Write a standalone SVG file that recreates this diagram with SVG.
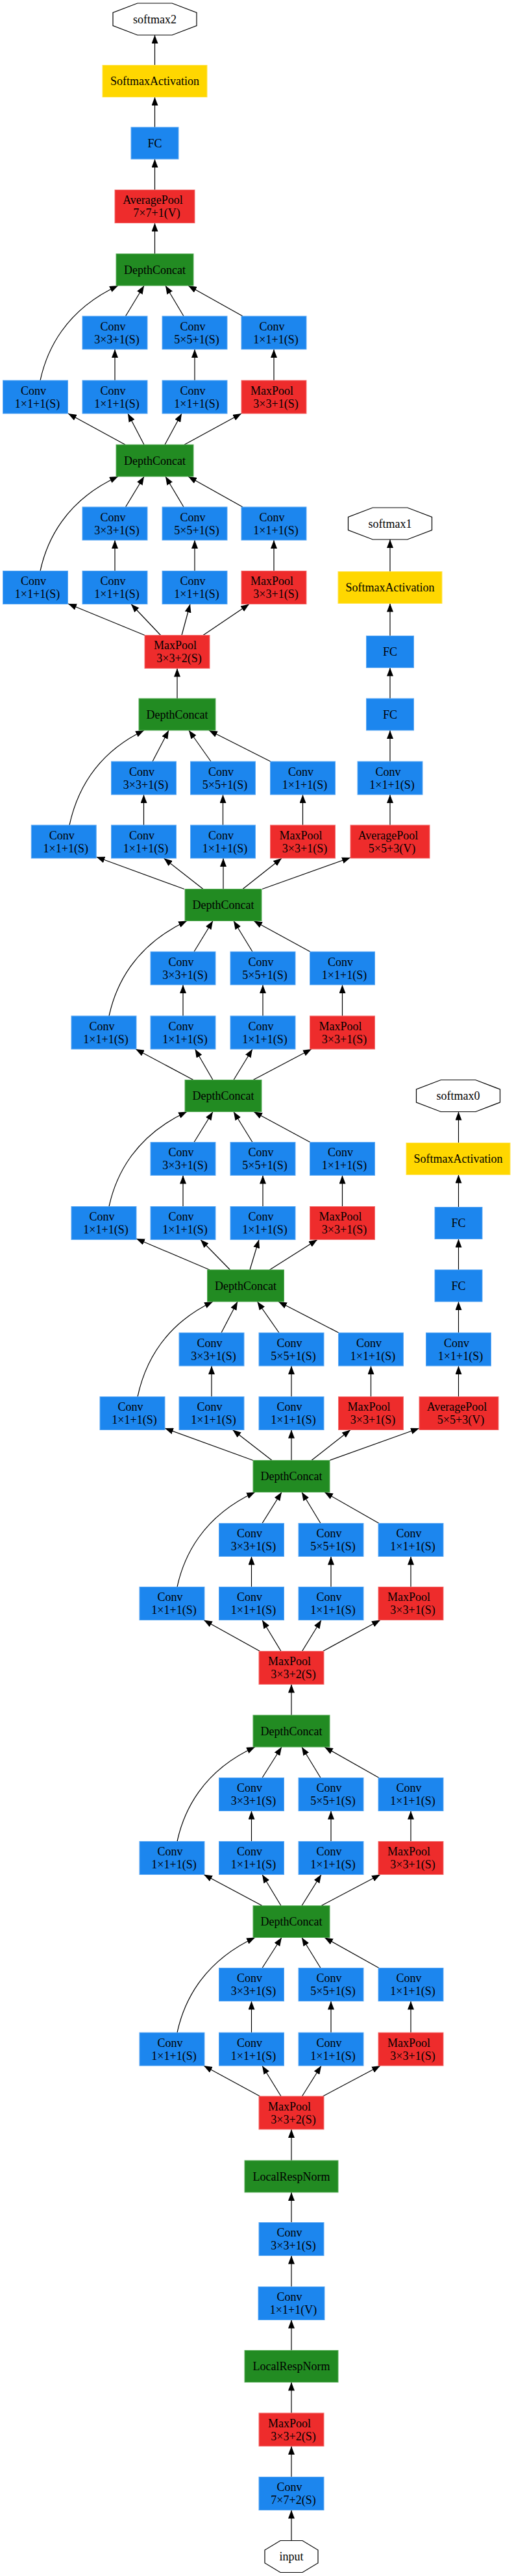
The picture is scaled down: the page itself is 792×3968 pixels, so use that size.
<svg xmlns="http://www.w3.org/2000/svg" width="792" height="3968" viewBox="0 0 792 3968">
<defs>
<style>
.conv{fill:#1C86EE;stroke:#5EA9F3;stroke-width:1}
.pool{fill:#EE2C2C;stroke:#F37070;stroke-width:1}
.dc{fill:#228B22;stroke:#5BAE5B;stroke-width:1}
.act{fill:#FFD700;stroke:#FFE34D;stroke-width:1}
.oct{fill:#FFFFFF;stroke:#000000;stroke-width:1.2}
.t{font-family:"Liberation Serif","Times New Roman",serif;font-size:18px;fill:#000000;text-anchor:middle}
.e{fill:none;stroke:#000000;stroke-width:1.2;marker-end:url(#arr)}
</style>
<marker id="arr" markerUnits="userSpaceOnUse" markerWidth="13" markerHeight="10" refX="13" refY="5" orient="auto" viewBox="0 0 13 10">
<path d="M0,0 L13,5 L0,10 z" fill="#000000"/>
</marker>
</defs>
<rect x="0" y="0" width="792" height="3968" fill="#FFFFFF"/>

<g id="connectors">
<!-- top chain -->
<path class="e" d="M238.5,391 L238.5,343.5"/>
<path class="e" d="M238.5,292.5 L238.5,245"/>
<path class="e" d="M238.5,196 L238.5,149.5"/>
<path class="e" d="M238.5,100.5 L238.5,54"/>
<!-- 5b to dc9 -->
<path class="e" d="M62,586 C72,540 100,478 182,440"/>
<path class="e" d="M193.5,487 L222,440"/>
<path class="e" d="M283,487 L255,440"/>
<path class="e" d="M374,487 L290,440"/>
<path class="e" d="M177,586 L177,538"/>
<path class="e" d="M300,586 L300,538"/>
<path class="e" d="M422,586 L422,538"/>
<path class="e" d="M193,685 L105,637"/>
<path class="e" d="M222,685 L197,637"/>
<path class="e" d="M254,685 L280,637"/>
<path class="e" d="M284,685 L372,637"/>
<!-- 5a to dc8 -->
<path class="e" d="M62,879.5 C72,833.5 100,771.5 182,734"/>
<path class="e" d="M193.5,781 L222,734"/>
<path class="e" d="M283,781 L255,734"/>
<path class="e" d="M374,781 L290,734"/>
<path class="e" d="M177,879.5 L177,832"/>
<path class="e" d="M300,879.5 L300,832"/>
<path class="e" d="M422,879.5 L422,832"/>
<path class="e" d="M223,978.5 L105,930"/>
<path class="e" d="M247.5,978.5 L202,930.5"/>
<path class="e" d="M280,978.5 L293,930.5"/>
<path class="e" d="M313,978.5 L384,930.5"/>
<path class="e" d="M273,1076 L273,1029.5"/>
<!-- 4e to dc7 -->
<path class="e" d="M107,1271 C117,1225 143.5,1163 222,1125"/>
<path class="e" d="M235,1173 L260,1125"/>
<path class="e" d="M325,1173 L291,1125"/>
<path class="e" d="M417,1173 L322,1125"/>
<path class="e" d="M221.5,1271 L221.5,1224"/>
<path class="e" d="M343.5,1271 L343.5,1224"/>
<path class="e" d="M466.5,1271 L466.5,1224"/>
<path class="e" d="M601,1271 L601,1224"/>
<path class="e" d="M284,1369.5 L148.5,1320"/>
<path class="e" d="M313,1369.5 L252.5,1322"/>
<path class="e" d="M344,1369.5 L344,1322"/>
<path class="e" d="M374,1369.5 L434,1322"/>
<path class="e" d="M404,1369.5 L540,1321"/>
<!-- aux 1 chain -->
<path class="e" d="M601,1173 L601,1125"/>
<path class="e" d="M601,1076 L601,1028.5"/>
<path class="e" d="M601,979.5 L601,929.5"/>
<path class="e" d="M601,880.5 L601,831"/>
<!-- 4d to dc6 -->
<path class="e" d="M168,1565 C178,1519 206,1457 288,1418.5"/>
<path class="e" d="M299,1466 L328,1418.5"/>
<path class="e" d="M389,1466 L360,1418.5"/>
<path class="e" d="M478,1466 L391,1418.5"/>
<path class="e" d="M282,1565 L282,1517"/>
<path class="e" d="M405,1565 L405,1517"/>
<path class="e" d="M527.5,1565 L527.5,1517"/>
<path class="e" d="M298,1663.5 L209,1616"/>
<path class="e" d="M328,1663.5 L300.5,1616"/>
<path class="e" d="M360,1663.5 L389,1616"/>
<path class="e" d="M390,1663.5 L480,1616"/>
<!-- 4c to dc5 -->
<path class="e" d="M168,1858.5 C178,1812.5 206,1750.5 288,1712.5"/>
<path class="e" d="M299,1759.5 L328,1712.5"/>
<path class="e" d="M389,1759.5 L360,1712.5"/>
<path class="e" d="M478,1759.5 L391,1712.5"/>
<path class="e" d="M282,1858.5 L282,1810.5"/>
<path class="e" d="M405,1858.5 L405,1810.5"/>
<path class="e" d="M527.5,1858.5 L527.5,1810.5"/>
<path class="e" d="M323,1956 L210,1908"/>
<path class="e" d="M354.5,1956 L309,1909.5"/>
<path class="e" d="M385,1956 L399,1909.5"/>
<path class="e" d="M415.5,1956 L489,1909.5"/>
<!-- aux 0 chain -->
<path class="e" d="M706.5,2151.5 L706.5,2104"/>
<path class="e" d="M706.5,2053 L706.5,2005"/>
<path class="e" d="M706.5,1956 L706.5,1908.5"/>
<path class="e" d="M706.5,1859.5 L706.5,1809.5"/>
<path class="e" d="M706.5,1760.5 L706.5,1712.5"/>
<!-- 4b to dc4 -->
<path class="e" d="M212,2151.5 C222,2105.5 249,2043 328,2005"/>
<path class="e" d="M341,2053 L366,2005"/>
<path class="e" d="M430,2053 L396.5,2005"/>
<path class="e" d="M522,2053 L429,2005"/>
<path class="e" d="M326,2151.5 L326,2104"/>
<path class="e" d="M449,2151.5 L449,2104"/>
<path class="e" d="M571.5,2151.5 L571.5,2104"/>
<path class="e" d="M390,2249.5 L254,2200"/>
<path class="e" d="M419,2249.5 L358.5,2202.5"/>
<path class="e" d="M449,2249.5 L449,2202.5"/>
<path class="e" d="M480,2249.5 L540,2202.5"/>
<path class="e" d="M508,2249.5 L646,2200"/>
<!-- 4a to dc3 -->
<path class="e" d="M273,2444.5 C283,2398.5 311,2336.5 393,2298.5"/>
<path class="e" d="M404,2346.5 L434,2298.5"/>
<path class="e" d="M494,2346.5 L465,2298.5"/>
<path class="e" d="M584,2346.5 L500,2298.5"/>
<path class="e" d="M387.5,2444.5 L387.5,2397.5"/>
<path class="e" d="M510,2444.5 L510,2397.5"/>
<path class="e" d="M633,2444.5 L633,2397.5"/>
<path class="e" d="M400.5,2543.5 L314,2495.5"/>
<path class="e" d="M433,2543.5 L404,2495.5"/>
<path class="e" d="M465.5,2543.5 L495,2495.5"/>
<path class="e" d="M497.5,2543.5 L586,2495.5"/>
<path class="e" d="M449,2642 L449,2594.5"/>
<!-- 3b to dc2 -->
<path class="e" d="M273,2836.5 C283,2790.5 311,2728.5 393,2691"/>
<path class="e" d="M404,2738.5 L434,2691"/>
<path class="e" d="M494,2738.5 L465,2691"/>
<path class="e" d="M584,2738.5 L500,2691"/>
<path class="e" d="M387.5,2836.5 L387.5,2789.5"/>
<path class="e" d="M510,2836.5 L510,2789.5"/>
<path class="e" d="M633,2836.5 L633,2789.5"/>
<path class="e" d="M404,2935.5 L314,2887.5"/>
<path class="e" d="M433,2935.5 L404,2887.5"/>
<path class="e" d="M465,2935.5 L495,2887.5"/>
<path class="e" d="M495,2935.5 L586,2887.5"/>
<!-- 3a to dc1 -->
<path class="e" d="M273,3131 C283,3085 311,3023 393,2984.5"/>
<path class="e" d="M404,3031.5 L434,2984.5"/>
<path class="e" d="M494,3031.5 L465,2984.5"/>
<path class="e" d="M584,3031.5 L500,2984.5"/>
<path class="e" d="M387.5,3131 L387.5,3082.5"/>
<path class="e" d="M510,3131 L510,3082.5"/>
<path class="e" d="M633,3131 L633,3082.5"/>
<path class="e" d="M400.5,3229 L314,3182"/>
<path class="e" d="M433,3229 L404,3182"/>
<path class="e" d="M465.5,3229 L495,3182"/>
<path class="e" d="M497.5,3229 L586,3182"/>
<!-- stem -->
<path class="e" d="M449,3328 L449,3280"/>
<path class="e" d="M449,3423.5 L449,3377"/>
<path class="e" d="M449,3522.5 L449,3474.5"/>
<path class="e" d="M449,3620.5 L449,3573.5"/>
<path class="e" d="M449,3717 L449,3669.5"/>
<path class="e" d="M449,3815.5 L449,3768"/>
<path class="e" d="M449,3913.5 L449,3866.5"/>
</g>

<!-- top -->
<g id="softmax2"><polygon class="oct" points="211.8,5 265.2,5 303,19.5 303,39.5 265.2,54 211.8,54 174,39.5 174,19.5"/><text class="t" x="238.5" y="35.5">softmax2</text></g>
<g id="softmaxact2"><rect class="act" x="158" y="100.5" width="161" height="49"/><text class="t" x="238.5" y="131">SoftmaxActivation</text></g>
<g id="fc2"><rect class="conv" x="202" y="196" width="73" height="49"/><text class="t" x="238.5" y="226.5">FC</text></g>
<g id="avgpool2"><rect class="pool" x="177" y="292.5" width="123" height="51"/><text class="t"><tspan x="235.5" y="314">AveragePool</tspan><tspan x="241.5" y="334">7×7+1(V)</tspan></text></g>
<g id="dc9"><rect class="dc" x="179" y="391" width="119" height="49"/><text class="t" x="238.5" y="421.5">DepthConcat</text></g>

<!-- inception 5b -->
<g id="i5b_3x3"><rect class="conv" x="127" y="487" width="100" height="51"/><text class="t"><tspan x="174" y="508.5">Conv</tspan><tspan x="180" y="528.5">3×3+1(S)</tspan></text></g>
<g id="i5b_5x5"><rect class="conv" x="250" y="487" width="100" height="51"/><text class="t"><tspan x="297" y="508.5">Conv</tspan><tspan x="303" y="528.5">5×5+1(S)</tspan></text></g>
<g id="i5b_pp"><rect class="conv" x="372" y="487" width="100" height="51"/><text class="t"><tspan x="419" y="508.5">Conv</tspan><tspan x="425" y="528.5">1×1+1(S)</tspan></text></g>
<g id="i5b_1x1"><rect class="conv" x="4.5" y="586" width="100" height="51"/><text class="t"><tspan x="51.5" y="607.5">Conv</tspan><tspan x="57.5" y="627.5">1×1+1(S)</tspan></text></g>
<g id="i5b_3r"><rect class="conv" x="127" y="586" width="100" height="51"/><text class="t"><tspan x="174" y="607.5">Conv</tspan><tspan x="180" y="627.5">1×1+1(S)</tspan></text></g>
<g id="i5b_5r"><rect class="conv" x="250" y="586" width="100" height="51"/><text class="t"><tspan x="297" y="607.5">Conv</tspan><tspan x="303" y="627.5">1×1+1(S)</tspan></text></g>
<g id="i5b_pool"><rect class="pool" x="372" y="586" width="100" height="51"/><text class="t"><tspan x="419" y="607.5">MaxPool</tspan><tspan x="425" y="627.5">3×3+1(S)</tspan></text></g>
<g id="dc8"><rect class="dc" x="179" y="685" width="119" height="49"/><text class="t" x="238.5" y="715.5">DepthConcat</text></g>

<!-- inception 5a -->
<g id="i5a_3x3"><rect class="conv" x="127" y="781" width="100" height="51"/><text class="t"><tspan x="174" y="802.5">Conv</tspan><tspan x="180" y="822.5">3×3+1(S)</tspan></text></g>
<g id="i5a_5x5"><rect class="conv" x="250" y="781" width="100" height="51"/><text class="t"><tspan x="297" y="802.5">Conv</tspan><tspan x="303" y="822.5">5×5+1(S)</tspan></text></g>
<g id="i5a_pp"><rect class="conv" x="372" y="781" width="100" height="51"/><text class="t"><tspan x="419" y="802.5">Conv</tspan><tspan x="425" y="822.5">1×1+1(S)</tspan></text></g>
<g id="i5a_1x1"><rect class="conv" x="4.5" y="879.5" width="100" height="51"/><text class="t"><tspan x="51.5" y="901">Conv</tspan><tspan x="57.5" y="921">1×1+1(S)</tspan></text></g>
<g id="i5a_3r"><rect class="conv" x="127" y="879.5" width="100" height="51"/><text class="t"><tspan x="174" y="901">Conv</tspan><tspan x="180" y="921">1×1+1(S)</tspan></text></g>
<g id="i5a_5r"><rect class="conv" x="250" y="879.5" width="100" height="51"/><text class="t"><tspan x="297" y="901">Conv</tspan><tspan x="303" y="921">1×1+1(S)</tspan></text></g>
<g id="i5a_pool"><rect class="pool" x="372" y="879.5" width="100" height="51"/><text class="t"><tspan x="419" y="901">MaxPool</tspan><tspan x="425" y="921">3×3+1(S)</tspan></text></g>
<g id="maxpool4"><rect class="pool" x="223" y="978.5" width="100" height="51"/><text class="t"><tspan x="270" y="1000">MaxPool</tspan><tspan x="276" y="1020">3×3+2(S)</tspan></text></g>
<g id="dc7"><rect class="dc" x="214" y="1076" width="118" height="49"/><text class="t" x="273" y="1106.5">DepthConcat</text></g>

<!-- aux 1 -->
<g id="softmax1"><polygon class="oct" points="574.3,782 627.7,782 665.5,796.5 665.5,816.5 627.7,831 574.3,831 536.5,816.5 536.5,796.5"/><text class="t" x="601" y="812.5">softmax1</text></g>
<g id="softmaxact1"><rect class="act" x="521" y="880.5" width="160" height="49"/><text class="t" x="601" y="911">SoftmaxActivation</text></g>
<g id="fc1a"><rect class="conv" x="564.5" y="979.5" width="73" height="49"/><text class="t" x="601" y="1010">FC</text></g>
<g id="fc1b"><rect class="conv" x="564.5" y="1076" width="73" height="49"/><text class="t" x="601" y="1106.5">FC</text></g>
<g id="aux1_conv"><rect class="conv" x="551" y="1173" width="100" height="51"/><text class="t"><tspan x="598" y="1194.5">Conv</tspan><tspan x="604" y="1214.5">1×1+1(S)</tspan></text></g>
<g id="aux1_pool"><rect class="pool" x="540" y="1271" width="122" height="51"/><text class="t"><tspan x="598" y="1292.5">AveragePool</tspan><tspan x="604" y="1312.5">5×5+3(V)</tspan></text></g>

<!-- inception 4e -->
<g id="i4e_3x3"><rect class="conv" x="171.5" y="1173" width="100" height="51"/><text class="t"><tspan x="218.5" y="1194.5">Conv</tspan><tspan x="224.5" y="1214.5">3×3+1(S)</tspan></text></g>
<g id="i4e_5x5"><rect class="conv" x="293.5" y="1173" width="100" height="51"/><text class="t"><tspan x="340.5" y="1194.5">Conv</tspan><tspan x="346.5" y="1214.5">5×5+1(S)</tspan></text></g>
<g id="i4e_pp"><rect class="conv" x="416.5" y="1173" width="100" height="51"/><text class="t"><tspan x="463.5" y="1194.5">Conv</tspan><tspan x="469.5" y="1214.5">1×1+1(S)</tspan></text></g>
<g id="i4e_1x1"><rect class="conv" x="48.25" y="1271" width="100" height="51"/><text class="t"><tspan x="95.25" y="1292.5">Conv</tspan><tspan x="101.25" y="1312.5">1×1+1(S)</tspan></text></g>
<g id="i4e_3r"><rect class="conv" x="171.5" y="1271" width="100" height="51"/><text class="t"><tspan x="218.5" y="1292.5">Conv</tspan><tspan x="224.5" y="1312.5">1×1+1(S)</tspan></text></g>
<g id="i4e_5r"><rect class="conv" x="293.5" y="1271" width="100" height="51"/><text class="t"><tspan x="340.5" y="1292.5">Conv</tspan><tspan x="346.5" y="1312.5">1×1+1(S)</tspan></text></g>
<g id="i4e_pool"><rect class="pool" x="416.5" y="1271" width="100" height="51"/><text class="t"><tspan x="463.5" y="1292.5">MaxPool</tspan><tspan x="469.5" y="1312.5">3×3+1(S)</tspan></text></g>
<g id="dc6"><rect class="dc" x="285" y="1369.5" width="118" height="49"/><text class="t" x="344" y="1400">DepthConcat</text></g>

<!-- inception 4d -->
<g id="i4d_3x3"><rect class="conv" x="232" y="1466" width="100" height="51"/><text class="t"><tspan x="279" y="1487.5">Conv</tspan><tspan x="285" y="1507.5">3×3+1(S)</tspan></text></g>
<g id="i4d_5x5"><rect class="conv" x="355" y="1466" width="100" height="51"/><text class="t"><tspan x="402" y="1487.5">Conv</tspan><tspan x="408" y="1507.5">5×5+1(S)</tspan></text></g>
<g id="i4d_pp"><rect class="conv" x="477.5" y="1466" width="100" height="51"/><text class="t"><tspan x="524.5" y="1487.5">Conv</tspan><tspan x="530.5" y="1507.5">1×1+1(S)</tspan></text></g>
<g id="i4d_1x1"><rect class="conv" x="110" y="1565" width="100" height="51"/><text class="t"><tspan x="157" y="1586.5">Conv</tspan><tspan x="163" y="1606.5">1×1+1(S)</tspan></text></g>
<g id="i4d_3r"><rect class="conv" x="232" y="1565" width="100" height="51"/><text class="t"><tspan x="279" y="1586.5">Conv</tspan><tspan x="285" y="1606.5">1×1+1(S)</tspan></text></g>
<g id="i4d_5r"><rect class="conv" x="355" y="1565" width="100" height="51"/><text class="t"><tspan x="402" y="1586.5">Conv</tspan><tspan x="408" y="1606.5">1×1+1(S)</tspan></text></g>
<g id="i4d_pool"><rect class="pool" x="477.5" y="1565" width="100" height="51"/><text class="t"><tspan x="524.5" y="1586.5">MaxPool</tspan><tspan x="530.5" y="1606.5">3×3+1(S)</tspan></text></g>
<g id="dc5"><rect class="dc" x="285" y="1663.5" width="118" height="49"/><text class="t" x="344" y="1694">DepthConcat</text></g>

<!-- inception 4c -->
<g id="i4c_3x3"><rect class="conv" x="232" y="1759.5" width="100" height="51"/><text class="t"><tspan x="279" y="1781">Conv</tspan><tspan x="285" y="1801">3×3+1(S)</tspan></text></g>
<g id="i4c_5x5"><rect class="conv" x="355" y="1759.5" width="100" height="51"/><text class="t"><tspan x="402" y="1781">Conv</tspan><tspan x="408" y="1801">5×5+1(S)</tspan></text></g>
<g id="i4c_pp"><rect class="conv" x="477.5" y="1759.5" width="100" height="51"/><text class="t"><tspan x="524.5" y="1781">Conv</tspan><tspan x="530.5" y="1801">1×1+1(S)</tspan></text></g>
<g id="i4c_1x1"><rect class="conv" x="110" y="1858.5" width="100" height="51"/><text class="t"><tspan x="157" y="1880">Conv</tspan><tspan x="163" y="1900">1×1+1(S)</tspan></text></g>
<g id="i4c_3r"><rect class="conv" x="232" y="1858.5" width="100" height="51"/><text class="t"><tspan x="279" y="1880">Conv</tspan><tspan x="285" y="1900">1×1+1(S)</tspan></text></g>
<g id="i4c_5r"><rect class="conv" x="355" y="1858.5" width="100" height="51"/><text class="t"><tspan x="402" y="1880">Conv</tspan><tspan x="408" y="1900">1×1+1(S)</tspan></text></g>
<g id="i4c_pool"><rect class="pool" x="477.5" y="1858.5" width="100" height="51"/><text class="t"><tspan x="524.5" y="1880">MaxPool</tspan><tspan x="530.5" y="1900">3×3+1(S)</tspan></text></g>
<g id="dc4"><rect class="dc" x="319.5" y="1956" width="118" height="49"/><text class="t" x="378.5" y="1986.5">DepthConcat</text></g>

<!-- aux 0 -->
<g id="softmax0"><polygon class="oct" points="679.3,1663.5 732.7,1663.5 770.5,1678 770.5,1698 732.7,1712.5 679.3,1712.5 641.5,1698 641.5,1678"/><text class="t" x="706" y="1694">softmax0</text></g>
<g id="softmaxact0"><rect class="act" x="626" y="1760.5" width="160" height="49"/><text class="t" x="706" y="1791">SoftmaxActivation</text></g>
<g id="fc0a"><rect class="conv" x="670" y="1859.5" width="73" height="49"/><text class="t" x="706.5" y="1890">FC</text></g>
<g id="fc0b"><rect class="conv" x="670" y="1956" width="73" height="49"/><text class="t" x="706.5" y="1986.5">FC</text></g>
<g id="aux0_conv"><rect class="conv" x="656.5" y="2053" width="100" height="51"/><text class="t"><tspan x="703.5" y="2074.5">Conv</tspan><tspan x="709.5" y="2094.5">1×1+1(S)</tspan></text></g>
<g id="aux0_pool"><rect class="pool" x="646" y="2151.5" width="122" height="51"/><text class="t"><tspan x="704" y="2173">AveragePool</tspan><tspan x="710" y="2193">5×5+3(V)</tspan></text></g>

<!-- inception 4b -->
<g id="i4b_3x3"><rect class="conv" x="276" y="2053" width="100" height="51"/><text class="t"><tspan x="323" y="2074.5">Conv</tspan><tspan x="329" y="2094.5">3×3+1(S)</tspan></text></g>
<g id="i4b_5x5"><rect class="conv" x="399" y="2053" width="100" height="51"/><text class="t"><tspan x="446" y="2074.5">Conv</tspan><tspan x="452" y="2094.5">5×5+1(S)</tspan></text></g>
<g id="i4b_pp"><rect class="conv" x="521.5" y="2053" width="100" height="51"/><text class="t"><tspan x="568.5" y="2074.5">Conv</tspan><tspan x="574.5" y="2094.5">1×1+1(S)</tspan></text></g>
<g id="i4b_1x1"><rect class="conv" x="154" y="2151.5" width="100" height="51"/><text class="t"><tspan x="201" y="2173">Conv</tspan><tspan x="207" y="2193">1×1+1(S)</tspan></text></g>
<g id="i4b_3r"><rect class="conv" x="276" y="2151.5" width="100" height="51"/><text class="t"><tspan x="323" y="2173">Conv</tspan><tspan x="329" y="2193">1×1+1(S)</tspan></text></g>
<g id="i4b_5r"><rect class="conv" x="399" y="2151.5" width="100" height="51"/><text class="t"><tspan x="446" y="2173">Conv</tspan><tspan x="452" y="2193">1×1+1(S)</tspan></text></g>
<g id="i4b_pool"><rect class="pool" x="521.5" y="2151.5" width="100" height="51"/><text class="t"><tspan x="568.5" y="2173">MaxPool</tspan><tspan x="574.5" y="2193">3×3+1(S)</tspan></text></g>
<g id="dc3"><rect class="dc" x="390" y="2249.5" width="118" height="49"/><text class="t" x="449" y="2280">DepthConcat</text></g>

<!-- inception 4a -->
<g id="i4a_3x3"><rect class="conv" x="337.5" y="2346.5" width="100" height="51"/><text class="t"><tspan x="384.5" y="2368">Conv</tspan><tspan x="390.5" y="2388">3×3+1(S)</tspan></text></g>
<g id="i4a_5x5"><rect class="conv" x="460" y="2346.5" width="100" height="51"/><text class="t"><tspan x="507" y="2368">Conv</tspan><tspan x="513" y="2388">5×5+1(S)</tspan></text></g>
<g id="i4a_pp"><rect class="conv" x="583" y="2346.5" width="100" height="51"/><text class="t"><tspan x="630" y="2368">Conv</tspan><tspan x="636" y="2388">1×1+1(S)</tspan></text></g>
<g id="i4a_1x1"><rect class="conv" x="215" y="2444.5" width="100" height="51"/><text class="t"><tspan x="262" y="2466">Conv</tspan><tspan x="268" y="2486">1×1+1(S)</tspan></text></g>
<g id="i4a_3r"><rect class="conv" x="337.5" y="2444.5" width="100" height="51"/><text class="t"><tspan x="384.5" y="2466">Conv</tspan><tspan x="390.5" y="2486">1×1+1(S)</tspan></text></g>
<g id="i4a_5r"><rect class="conv" x="460" y="2444.5" width="100" height="51"/><text class="t"><tspan x="507" y="2466">Conv</tspan><tspan x="513" y="2486">1×1+1(S)</tspan></text></g>
<g id="i4a_pool"><rect class="pool" x="583" y="2444.5" width="100" height="51"/><text class="t"><tspan x="630" y="2466">MaxPool</tspan><tspan x="636" y="2486">3×3+1(S)</tspan></text></g>
<g id="maxpool3"><rect class="pool" x="399" y="2543.5" width="100" height="51"/><text class="t"><tspan x="446" y="2565">MaxPool</tspan><tspan x="452" y="2585">3×3+2(S)</tspan></text></g>
<g id="dc2"><rect class="dc" x="390" y="2642" width="118" height="49"/><text class="t" x="449" y="2672.5">DepthConcat</text></g>

<!-- inception 3b -->
<g id="i3b_3x3"><rect class="conv" x="337.5" y="2738.5" width="100" height="51"/><text class="t"><tspan x="384.5" y="2760">Conv</tspan><tspan x="390.5" y="2780">3×3+1(S)</tspan></text></g>
<g id="i3b_5x5"><rect class="conv" x="460" y="2738.5" width="100" height="51"/><text class="t"><tspan x="507" y="2760">Conv</tspan><tspan x="513" y="2780">5×5+1(S)</tspan></text></g>
<g id="i3b_pp"><rect class="conv" x="583" y="2738.5" width="100" height="51"/><text class="t"><tspan x="630" y="2760">Conv</tspan><tspan x="636" y="2780">1×1+1(S)</tspan></text></g>
<g id="i3b_1x1"><rect class="conv" x="215" y="2836.5" width="100" height="51"/><text class="t"><tspan x="262" y="2858">Conv</tspan><tspan x="268" y="2878">1×1+1(S)</tspan></text></g>
<g id="i3b_3r"><rect class="conv" x="337.5" y="2836.5" width="100" height="51"/><text class="t"><tspan x="384.5" y="2858">Conv</tspan><tspan x="390.5" y="2878">1×1+1(S)</tspan></text></g>
<g id="i3b_5r"><rect class="conv" x="460" y="2836.5" width="100" height="51"/><text class="t"><tspan x="507" y="2858">Conv</tspan><tspan x="513" y="2878">1×1+1(S)</tspan></text></g>
<g id="i3b_pool"><rect class="pool" x="583" y="2836.5" width="100" height="51"/><text class="t"><tspan x="630" y="2858">MaxPool</tspan><tspan x="636" y="2878">3×3+1(S)</tspan></text></g>
<g id="dc1"><rect class="dc" x="390" y="2935.5" width="118" height="49"/><text class="t" x="449" y="2966">DepthConcat</text></g>

<!-- inception 3a -->
<g id="i3a_3x3"><rect class="conv" x="337.5" y="3031.5" width="100" height="51"/><text class="t"><tspan x="384.5" y="3053">Conv</tspan><tspan x="390.5" y="3073">3×3+1(S)</tspan></text></g>
<g id="i3a_5x5"><rect class="conv" x="460" y="3031.5" width="100" height="51"/><text class="t"><tspan x="507" y="3053">Conv</tspan><tspan x="513" y="3073">5×5+1(S)</tspan></text></g>
<g id="i3a_pp"><rect class="conv" x="583" y="3031.5" width="100" height="51"/><text class="t"><tspan x="630" y="3053">Conv</tspan><tspan x="636" y="3073">1×1+1(S)</tspan></text></g>
<g id="i3a_1x1"><rect class="conv" x="215" y="3131" width="100" height="51"/><text class="t"><tspan x="262" y="3152.5">Conv</tspan><tspan x="268" y="3172.5">1×1+1(S)</tspan></text></g>
<g id="i3a_3r"><rect class="conv" x="337.5" y="3131" width="100" height="51"/><text class="t"><tspan x="384.5" y="3152.5">Conv</tspan><tspan x="390.5" y="3172.5">1×1+1(S)</tspan></text></g>
<g id="i3a_5r"><rect class="conv" x="460" y="3131" width="100" height="51"/><text class="t"><tspan x="507" y="3152.5">Conv</tspan><tspan x="513" y="3172.5">1×1+1(S)</tspan></text></g>
<g id="i3a_pool"><rect class="pool" x="583" y="3131" width="100" height="51"/><text class="t"><tspan x="630" y="3152.5">MaxPool</tspan><tspan x="636" y="3172.5">3×3+1(S)</tspan></text></g>

<!-- stem -->
<g id="maxpool2"><rect class="pool" x="399" y="3229" width="100" height="51"/><text class="t"><tspan x="446" y="3250.5">MaxPool</tspan><tspan x="452" y="3270.5">3×3+2(S)</tspan></text></g>
<g id="lrn2"><rect class="dc" x="377" y="3328" width="144" height="49"/><text class="t" x="449" y="3358.5">LocalRespNorm</text></g>
<g id="conv3"><rect class="conv" x="399" y="3423.5" width="100" height="51"/><text class="t"><tspan x="446" y="3445">Conv</tspan><tspan x="452" y="3465">3×3+1(S)</tspan></text></g>
<g id="conv2"><rect class="conv" x="398" y="3522.5" width="102" height="51"/><text class="t"><tspan x="446" y="3544">Conv</tspan><tspan x="452" y="3564">1×1+1(V)</tspan></text></g>
<g id="lrn1"><rect class="dc" x="377" y="3620.5" width="144" height="49"/><text class="t" x="449" y="3651">LocalRespNorm</text></g>
<g id="maxpool1"><rect class="pool" x="399" y="3717" width="100" height="51"/><text class="t"><tspan x="446" y="3738.5">MaxPool</tspan><tspan x="452" y="3758.5">3×3+2(S)</tspan></text></g>
<g id="conv1"><rect class="conv" x="399" y="3815.5" width="100" height="51"/><text class="t"><tspan x="446" y="3837">Conv</tspan><tspan x="452" y="3857">7×7+2(S)</tspan></text></g>
<g id="input"><polygon class="oct" points="432,3913.5 466,3913.5 490,3928 490,3948 466,3962.5 432,3962.5 408,3948 408,3928"/><text class="t" x="449" y="3944">input</text></g>
</svg>
